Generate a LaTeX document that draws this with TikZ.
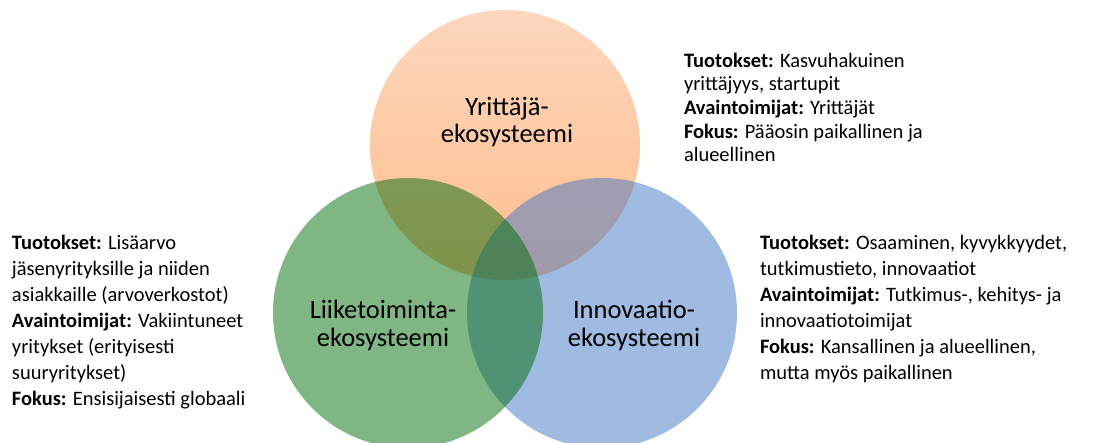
\documentclass[tikz,border=0pt]{standalone}
\usepackage{fontspec}
\setmainfont{Carlito}
\definecolor{orangetop}{RGB}{252,214,190}
\definecolor{orangebottom}{RGB}{255,190,140}
\definecolor{ekogreen}{RGB}{1,107,9}
\definecolor{ekoblue}{RGB}{65,119,197}

\begin{document}
\begin{tikzpicture}[x=1pt, y=-1pt,
	every node/.style={inner sep=0pt, outer sep=0pt},
	ekocircle/.style={circle, minimum size=270pt},
	ekolabel/.style={align=center, anchor=base, font=\fontsize{26.5}{27.5}\selectfont},
	ekotext/.style={align=left, anchor=base west, font=\fontsize{20.5}{26}\selectfont}]

	\useasboundingbox (0,0) rectangle (1102,443);

	% ympyrat
	\node[ekocircle, top color=orangetop, bottom color=orangebottom] (yrittaja) at (505,145) {};
	\node[ekocircle, fill=ekoblue, fill opacity=0.5] (innovaatio) at (602,313) {};
	\node[ekocircle, fill=ekogreen, fill opacity=0.5] (liiketoiminta) at (408,313) {};

	\node[ekolabel] (yrittajaname) at (507,143) {Yrittäjä-\\ekosysteemi};
	\node[ekolabel] (liiketoimintaname) at (383,346) {Liiketoiminta-\\ekosysteemi};
	\node[ekolabel] (innovaationame) at (634,346) {Innovaatio-\\ekosysteemi};

	% kuvaukset
	\node[ekotext, font=\fontsize{20.5}{23.7}\selectfont] (yrittajatext) at (684,162) {%
		\textbf{Tuotokset:} Kasvuhakuinen\\
		yrittäjyys, startupit\\
		\textbf{Avaintoimijat:} Yrittäjät\\
		\textbf{Fokus:} Pääosin paikallinen ja\\
		alueellinen};
	\node[ekotext] (liiketoimintatext) at (12,405) {%
		\textbf{Tuotokset:} Lisäarvo\\
		jäsenyrityksille ja niiden\\
		asiakkaille (arvoverkostot)\\
		\textbf{Avaintoimijat:} Vakiintuneet\\
		yritykset (erityisesti\\
		suuryritykset)\\
		\textbf{Fokus:} Ensisijaisesti globaali};
	\node[ekotext] (innovaatiotext) at (760,379) {%
		\textbf{Tuotokset:} Osaaminen, kyvykkyydet,\\
		tutkimustieto, innovaatiot\\
		\textbf{Avaintoimijat:} Tutkimus-, kehitys- ja\\
		innovaatiotoimijat\\
		\textbf{Fokus:} Kansallinen ja alueellinen,\\
		mutta myös paikallinen};
\end{tikzpicture}
\end{document}
